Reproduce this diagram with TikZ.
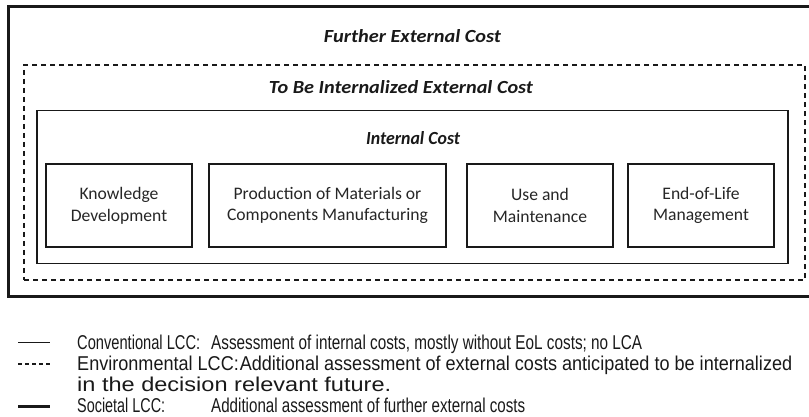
\documentclass[tikz,border=0pt]{standalone}
\usepackage{graphicx}
\usepackage{fontspec}
\setmainfont{Carlito}
\newfontfamily\legfont{Liberation Sans}
\newcommand{\fitw}[2]{\resizebox{#1}{\height}{#2}}
\begin{document}
\begin{tikzpicture}[x=1pt,y=-1pt,
  outerbox/.style={draw=black!90, line width=3pt, minimum width=814, minimum height=289, inner sep=0pt},
  envbox/.style={draw=black!90, line width=1.2pt, dash pattern=on 5pt off 4pt, minimum width=781, minimum height=215, inner sep=0pt},
  intbox/.style={draw=black!90, line width=1.4pt, minimum width=751, minimum height=152.6, inner sep=0pt},
  stagebox/.style={draw=black!90, line width=1.4pt, minimum height=83, inner sep=0pt, align=center,
    text=black!85, font=\fontsize{17.6}{21.7}\selectfont},
  boxtitle/.style={inner sep=0pt, text=black!90, font=\fontsize{18.5}{20}\selectfont\bfseries\itshape},
  legtext/.style={inner sep=0pt, anchor=base west, text=black!90, font=\legfont\fontsize{20}{21.5}\selectfont},
  legsolid/.style={draw=black!90, line width=1.4pt},
  legdash/.style={draw=black!90, line width=1.3pt, dash pattern=on 4pt off 3pt},
  legthick/.style={draw=black!90, line width=3pt}
]
\useasboundingbox (0,0) rectangle (809,417);
\clip (0,0) rectangle (809,417);

% nested cost boxes
\node[outerbox] (outer) at (415,151.5) {};
\node[envbox] (env) at (414.5,172.5) {};
\node[intbox] (int) at (412.5,187) {};

\node[boxtitle] (tfurther) at (412.5,36) {\fitw{177pt}{Further External Cost}};
\node[boxtitle] (ttobe) at (401,87) {\fitw{264pt}{To Be Internalized External Cost}};
\node[boxtitle] (tint) at (413,138) {\fitw{94pt}{Internal Cost}};

% life cycle stages
\node[stagebox, minimum width=146] (kd) at (119,205.5) {Knowledge\\Development};
\node[stagebox, minimum width=237] (pm) at (327.5,205.5) {Production of Materials or\\Components Manufacturing};
\node[stagebox, minimum width=146] (um) at (540,205.5) {Use and\\Maintenance};
\node[stagebox, minimum width=146] (eol) at (701,205.5) {End-of-Life\\Management};

% legend
\coordinate (l1a) at (18,342.5); \coordinate (l1b) at (50,342.5);
\coordinate (l2a) at (18,364); \coordinate (l2b) at (50,364);
\coordinate (l4a) at (18,406); \coordinate (l4b) at (50,406);
\draw[legsolid] (l1a) -- (l1b);
\draw[legdash] (l2a) -- (l2b);
\draw[legthick] (l4a) -- (l4b);

\node[legtext] (c1) at (77,349) {\fitw{123pt}{Conventional LCC:}};
\node[legtext] (c1b) at (211,349) {\fitw{431pt}{Assessment of internal costs, mostly without EoL costs; no LCA}};
\node[legtext] (c2) at (77,370.2) {\fitw{715pt}{Environmental LCC:\hspace{1pt}Additional assessment of external costs anticipated to be internalized}};
\node[legtext] (c3) at (77,391.2) {\fitw{314pt}{in the decision relevant future.}};
\node[legtext] (c4) at (77,412) {\fitw{88pt}{Societal LCC:}};
\node[legtext] (c4b) at (211,412) {\fitw{314pt}{Additional assessment of further external costs}};
\end{tikzpicture}
\end{document}
